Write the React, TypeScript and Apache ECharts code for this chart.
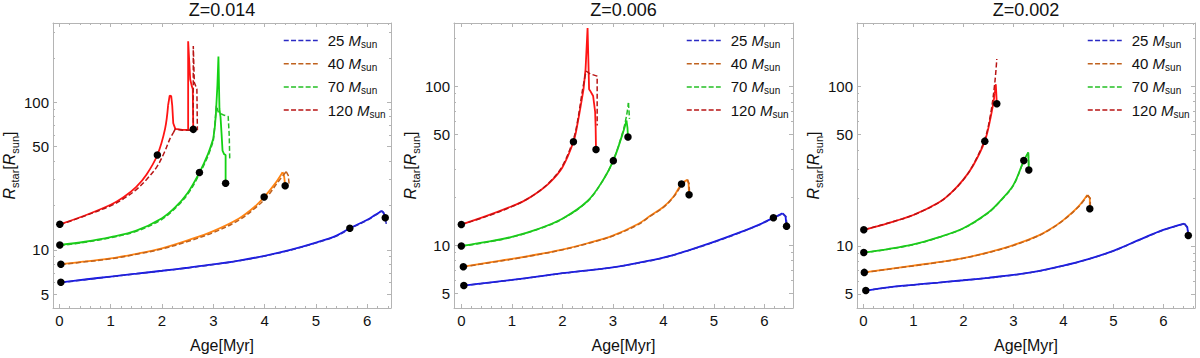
import React, { useEffect, useRef } from 'react';
import * as echarts from 'echarts';

// ---------- data ----------
const MASSES = ['25', '40', '70', '120'];
const TITLES = ['Z=0.014', 'Z=0.006', 'Z=0.002'];
const X_MAJOR = [0, 1, 2, 3, 4, 5, 6];
const X_MINOR = [0.2, 0.4, 0.6, 0.8, 1.2, 1.4, 1.6, 1.8, 2.2, 2.4, 2.6, 2.8, 3.2, 3.4, 3.6, 3.8, 4.2, 4.4, 4.6, 4.8, 5.2, 5.4, 5.6, 5.8, 6.2, 6.4, 6.6];
const Y_MAJOR = [5, 10, 50, 100];
const Y_MINOR = [6, 7, 8, 9, 20, 30, 40, 60, 70, 80, 90, 200, 300];

// Each track: smooth main-sequence part + sharp end part (end starts at the last main point)
// Z = 0.014
const z014_25_solid = [[0.03, 6.03], [0.5, 6.3], [1, 6.6], [1.5, 6.9], [2, 7.22], [2.5, 7.57], [3, 7.97], [3.5, 8.47], [4, 9.12], [4.5, 10.0], [5, 11.2], [5.4, 12.5], [5.66, 14.0], [6, 16.0], [6.15, 17.2], [6.24, 18.0], [6.27, 18.3], [6.3, 18.1]];
const z014_25_solid_end = [[6.3, 18.1], [6.33, 17.4], [6.35, 16.5]];
const z014_25_dash = [[0.03, 6.0], [0.5, 6.28], [1, 6.58], [1.5, 6.88], [2, 7.2], [2.5, 7.55], [3, 7.95], [3.5, 8.44], [4, 9.08], [4.5, 9.95], [5, 11.15], [5.4, 12.4], [5.66, 13.9], [6, 15.9], [6.15, 17.1], [6.26, 18.1], [6.29, 18.3], [6.32, 17.9]];
const z014_25_dash_end = [[6.32, 17.9], [6.35, 16.4], [6.37, 15.0]];
const z014_40_solid = [[0.03, 8.0], [0.5, 8.35], [1, 8.75], [1.5, 9.4], [2, 10.25], [2.5, 11.6], [3, 13.4], [3.5, 16.3], [3.8, 19.5], [3.99, 22.8], [4.2, 28], [4.35, 33.6]];
const z014_40_solid_end = [[4.35, 33.6], [4.38, 31.5], [4.4, 27.2]];
const z014_40_dash = [[0.03, 7.95], [0.5, 8.3], [1, 8.7], [1.5, 9.33], [2, 10.15], [2.5, 11.4], [3, 13.1], [3.5, 15.9], [3.8, 19], [4.05, 23], [4.25, 28.5], [4.42, 33.9]];
const z014_40_dash_end = [[4.42, 33.9], [4.46, 32], [4.48, 27.4]];
const z014_70_solid = [[0.01, 10.8], [0.5, 11.35], [1, 12.2], [1.5, 13.5], [2, 16.4], [2.25, 19.3], [2.5, 24.3], [2.73, 33.4], [2.9, 44.9], [3.0, 56.7]];
const z014_70_solid_end = [[3.0, 56.7], [3.03, 68], [3.05, 83], [3.08, 130], [3.1, 204], [3.12, 90], [3.14, 80], [3.16, 62], [3.18, 47], [3.21, 44.5], [3.24, 43.9], [3.24, 28.3]];
const z014_70_dash = [[0.01, 10.7], [0.5, 11.25], [1, 12.1], [1.5, 13.35], [2, 16.1], [2.25, 19.0], [2.5, 23.8], [2.73, 32.6], [2.9, 43.5], [3.0, 55]];
const z014_70_dash_end = [[3.0, 55], [3.03, 70], [3.06, 95], [3.1, 85], [3.2, 82], [3.29, 80], [3.31, 60], [3.32, 41.6]];
const z014_120_solid = [[0.01, 14.9], [0.5, 17.1], [1, 20.2], [1.25, 22.7], [1.5, 26.7], [1.7, 32.4], [1.91, 43.9], [2.06, 66], [2.12, 95.5]];
const z014_120_solid_end = [[2.12, 95.5], [2.15, 111], [2.18, 110], [2.2, 95], [2.22, 72], [2.26, 66], [2.4, 65], [2.51, 65], [2.51, 259], [2.55, 143], [2.58, 129], [2.6, 123], [2.61, 65.5]];
const z014_120_dash = [[0.01, 14.8], [0.5, 17.0], [1, 19.9], [1.25, 22.2], [1.5, 25.6], [1.7, 30.0], [1.9, 36.5], [2.05, 46], [2.15, 56], [2.22, 62]];
const z014_120_dash_end = [[2.22, 62], [2.26, 66], [2.4, 64.6], [2.61, 64.6], [2.61, 240], [2.63, 136], [2.68, 123], [2.69, 64.6]];
const z014_dots = [[0.03, 6.03], [5.66, 14.0], [6.35, 16.5], [0.03, 8.0], [3.99, 22.8], [4.4, 27.2], [0.01, 10.8], [2.73, 33.4], [3.24, 28.3], [0.01, 14.9], [1.91, 43.9], [2.61, 65.5]];

// Z = 0.006
const z006_25_solid = [[0.05, 5.58], [0.5, 5.8], [1, 6.05], [1.5, 6.35], [2, 6.67], [2.5, 6.95], [3, 7.27], [3.5, 7.75], [4, 8.35], [4.5, 9.3], [5, 10.5], [5.5, 12.0], [5.9, 13.5], [6.18, 14.9], [6.36, 15.9]];
const z006_25_solid_end = [[6.36, 15.9], [6.42, 15.2], [6.44, 13.2]];
const z006_25_dash = [[0.05, 5.57], [0.5, 5.79], [1, 6.04], [1.5, 6.34], [2, 6.66], [2.5, 6.94], [3, 7.26], [3.5, 7.73], [4, 8.33], [4.5, 9.27], [5, 10.45], [5.5, 11.95], [5.9, 13.45], [6.18, 14.85], [6.37, 15.85]];
const z006_25_dash_end = [[6.37, 15.85], [6.43, 15.1], [6.45, 13.3]];
const z006_40_solid = [[0.04, 7.33], [0.5, 7.75], [1, 8.2], [1.5, 8.75], [2, 9.4], [2.5, 10.3], [3, 11.5], [3.5, 13.6], [3.75, 15.4], [4, 17.4], [4.2, 20.2], [4.36, 24.3], [4.47, 25.8]];
const z006_40_solid_end = [[4.47, 25.8], [4.5, 24.5], [4.51, 20.8]];
const z006_40_dash = [[0.04, 7.3], [0.5, 7.72], [1, 8.17], [1.5, 8.72], [2, 9.36], [2.5, 10.25], [3, 11.45], [3.5, 13.5], [3.75, 15.3], [4, 17.3], [4.2, 20.1], [4.38, 24.3], [4.48, 25.9]];
const z006_40_dash_end = [[4.48, 25.9], [4.51, 24.5], [4.52, 21]];
const z006_70_solid = [[0, 9.9], [0.5, 10.5], [1, 11.3], [1.5, 12.6], [2, 14.7], [2.5, 19.0], [2.8, 25.5], [3.01, 34.1], [3.2, 51], [3.27, 61]];
const z006_70_solid_end = [[3.27, 61], [3.29, 55], [3.3, 48]];
const z006_70_dash = [[0, 9.85], [0.5, 10.45], [1, 11.25], [1.5, 12.55], [2, 14.65], [2.5, 18.9], [2.8, 25.5], [3.01, 34.3], [3.2, 52], [3.27, 65], [3.31, 78.7]];
const z006_70_dash_end = [[3.31, 78.7], [3.33, 62.5]];
const z006_120_solid = [[0, 13.5], [0.5, 15.3], [1, 17.6], [1.25, 19.1], [1.5, 21.4], [1.75, 24.8], [2, 30.9], [2.22, 44.8], [2.3, 58], [2.42, 96]];
const z006_120_solid_end = [[2.42, 96], [2.46, 128], [2.49, 200], [2.5, 233], [2.515, 150], [2.53, 96], [2.55, 94], [2.61, 87], [2.65, 69], [2.66, 55], [2.667, 40.1]];
const z006_120_dash = [[0, 13.5], [0.5, 15.2], [1, 17.5], [1.25, 19.1], [1.5, 21.4], [1.75, 25.0], [2, 31.5], [2.22, 46.5], [2.3, 60], [2.4, 95], [2.47, 125]];
const z006_120_dash_end = [[2.47, 125], [2.55, 120], [2.69, 116], [2.69, 56.8]];
const z006_dots = [[0.05, 5.58], [6.18, 14.9], [6.44, 13.2], [0.04, 7.33], [4.36, 24.3], [4.51, 20.8], [0, 9.9], [3.01, 34.1], [3.3, 48], [0, 13.5], [2.22, 44.8], [2.667, 40.1]];

// Z = 0.002
const z002_25_solid = [[0.05, 5.25], [0.5, 5.5], [1, 5.7], [1.5, 5.89], [2, 6.09], [2.5, 6.31], [3, 6.57], [3.5, 6.95], [4, 7.51], [4.5, 8.26], [5, 9.31], [5.5, 10.85], [6, 12.6], [6.42, 13.8]];
const z002_25_solid_end = [[6.42, 13.8], [6.48, 13.1], [6.5, 11.6]];
const z002_25_dash = [[0.05, 5.24], [0.5, 5.49], [1, 5.69], [1.5, 5.88], [2, 6.08], [2.5, 6.3], [3, 6.56], [3.5, 6.94], [4, 7.5], [4.5, 8.24], [5, 9.28], [5.5, 10.8], [6, 12.55], [6.42, 13.75]];
const z002_25_dash_end = [[6.42, 13.75], [6.48, 13.05], [6.5, 11.7]];
const z002_40_solid = [[0.02, 6.82], [0.5, 7.15], [1, 7.51], [1.5, 7.9], [2, 8.38], [2.5, 9.1], [3, 10.1], [3.5, 11.6], [3.75, 12.8], [4, 14.5], [4.3, 17.6], [4.48, 20.8]];
const z002_40_solid_end = [[4.48, 20.8], [4.53, 19.9], [4.53, 17.1]];
const z002_40_dash = [[0.02, 6.8], [0.5, 7.13], [1, 7.49], [1.5, 7.88], [2, 8.36], [2.5, 9.07], [3, 10.05], [3.5, 11.55], [3.75, 12.75], [4, 14.45], [4.3, 17.5], [4.49, 20.8]];
const z002_40_dash_end = [[4.49, 20.8], [4.54, 19.8], [4.54, 17.3]];
const z002_70_solid = [[0.01, 9.08], [0.5, 9.55], [1, 10.2], [1.5, 11.3], [2, 12.9], [2.5, 16.2], [2.75, 19.3], [3, 24.0], [3.21, 34.2], [3.3, 38.5]];
const z002_70_solid_end = [[3.3, 38.5], [3.31, 29.9]];
const z002_70_dash = [[0.01, 9.05], [0.5, 9.52], [1, 10.17], [1.5, 11.27], [2, 12.85], [2.5, 16.1], [2.75, 19.2], [3, 23.8], [3.21, 34.0], [3.3, 38.3]];
const z002_70_dash_end = [[3.3, 38.3], [3.31, 30.2]];
const z002_120_solid = [[0.01, 12.6], [0.5, 13.9], [1, 15.6], [1.5, 18.6], [1.75, 21.4], [2, 26.0], [2.2, 32.0], [2.43, 45.3], [2.55, 64.6], [2.63, 90]];
const z002_120_solid_end = [[2.63, 90], [2.65, 103], [2.66, 90], [2.67, 77.6]];
const z002_120_dash = [[0.01, 12.6], [0.5, 13.9], [1, 15.6], [1.5, 18.6], [1.75, 21.4], [2, 25.9], [2.2, 32.3], [2.43, 46.5], [2.55, 68], [2.63, 105], [2.67, 148]];
const z002_120_dash_end = [[2.67, 148]];
const z002_dots = [[0.05, 5.25], [6.5, 11.6], [0.02, 6.82], [4.53, 17.1], [0.01, 9.08], [3.21, 34.2], [3.31, 29.9], [0.01, 12.6], [2.43, 45.3], [2.67, 77.6]];

const SOLID = [
  [[z014_25_solid, z014_25_solid_end], [z014_40_solid, z014_40_solid_end], [z014_70_solid, z014_70_solid_end], [z014_120_solid, z014_120_solid_end]],
  [[z006_25_solid, z006_25_solid_end], [z006_40_solid, z006_40_solid_end], [z006_70_solid, z006_70_solid_end], [z006_120_solid, z006_120_solid_end]],
  [[z002_25_solid, z002_25_solid_end], [z002_40_solid, z002_40_solid_end], [z002_70_solid, z002_70_solid_end], [z002_120_solid, z002_120_solid_end]],
];
const DASHED = [
  [[z014_25_dash, z014_25_dash_end], [z014_40_dash, z014_40_dash_end], [z014_70_dash, z014_70_dash_end], [z014_120_dash, z014_120_dash_end]],
  [[z006_25_dash, z006_25_dash_end], [z006_40_dash, z006_40_dash_end], [z006_70_dash, z006_70_dash_end], [z006_120_dash, z006_120_dash_end]],
  [[z002_25_dash, z002_25_dash_end], [z002_40_dash, z002_40_dash_end], [z002_70_dash, z002_70_dash_end], [z002_120_dash, z002_120_dash_end]],
];
const DOTS = [z014_dots, z006_dots, z002_dots];

// ---------- layout & style ----------
const PANELS = [
  { left: 53, width: 338, xMin: -0.123, xMax: 6.462, yMin: 4.04, yMax: 344, legendLeft: 283 },
  { left: 454, width: 339, xMin: -0.145, xMax: 6.568, yMin: 4.03, yMax: 250.6, legendLeft: 686 },
  { left: 857, width: 338, xMin: -0.126, xMax: 6.634, yMin: 4.08, yMax: 249, legendLeft: 1087 },
];
const GRID_TOP = 23;
const GRID_H = 288;
const SOLID_COLORS = ['#1414f0', '#ff8412', '#14d214', '#ff1414'];
const DASH_COLORS = ['#2a2ac4', '#c0621e', '#24c024', '#b81414'];
const FRAME = '#b4b4b4';
const FONT = '"Liberation Sans", Arial, sans-serif';
const TXT = '#111';
const SMOOTH = 0.35;
const DASH = [5, 2.5];

function buildOption() {
  const grid: any[] = [];
  const xAxis: any[] = [];
  const yAxis: any[] = [];
  const series: any[] = [];
  const title: any[] = [];
  const legend: any[] = [];

  PANELS.forEach((p, i) => {
    grid.push({ left: p.left, top: GRID_TOP, width: p.width, height: GRID_H, containLabel: false });
    const xin = (v: number) => v >= p.xMin && v <= p.xMax;
    const yin = (v: number) => v >= p.yMin && v <= p.yMax;
    const xMaj = X_MAJOR.filter(xin);
    const xMin = X_MINOR.filter(xin);
    const yMaj = Y_MAJOR.filter(yin);
    const yMin = Y_MINOR.filter(yin);
    const baseX = { gridIndex: i, type: 'value', min: p.xMin, max: p.xMax, splitLine: { show: false } };
    xAxis.push({
      ...baseX, position: 'bottom',
      axisLine: { show: true, onZero: false, lineStyle: { color: FRAME, width: 1 } },
      axisTick: { show: true, inside: true, length: 4, customValues: xMaj, lineStyle: { color: FRAME } },
      axisLabel: { show: true, customValues: xMaj, fontSize: 15, color: TXT, fontFamily: FONT, margin: 5, formatter: (v: number) => String(v) },
      name: 'Age[Myr]', nameLocation: 'middle', nameGap: 29,
      nameTextStyle: { fontSize: 16, color: TXT, fontFamily: FONT },
    });
    xAxis.push({
      ...baseX, position: 'bottom',
      axisLine: { show: false, onZero: false },
      axisTick: { show: true, inside: true, length: 2, customValues: xMin, lineStyle: { color: FRAME } },
      axisLabel: { show: false },
    });
    xAxis.push({
      ...baseX, position: 'top',
      axisLine: { show: true, onZero: false, lineStyle: { color: FRAME, width: 1 } },
      axisTick: { show: true, inside: true, length: 4, customValues: xMaj, lineStyle: { color: FRAME } },
      axisLabel: { show: false },
    });
    xAxis.push({
      ...baseX, position: 'top',
      axisLine: { show: false, onZero: false },
      axisTick: { show: true, inside: true, length: 2, customValues: xMin, lineStyle: { color: FRAME } },
      axisLabel: { show: false },
    });

    const baseY = { gridIndex: i, type: 'log', logBase: 10, min: p.yMin, max: p.yMax, splitLine: { show: false } };
    yAxis.push({
      ...baseY, position: 'left',
      axisLine: { show: true, onZero: false, lineStyle: { color: FRAME, width: 1 } },
      axisTick: { show: true, inside: true, length: 4, customValues: yMaj, lineStyle: { color: FRAME } },
      axisLabel: { show: true, customValues: yMaj, fontSize: 15, color: TXT, fontFamily: FONT, margin: 4, formatter: (v: number) => String(Math.round(v)) },
      name: '{i|R}{s|star}{n|[}{i|R}{s|sun}{n|]}', nameLocation: 'middle', nameGap: 31,
      nameTextStyle: {
        fontSize: 16, color: TXT, fontFamily: FONT,
        rich: {
          i: { fontSize: 16, fontStyle: 'italic', fontFamily: FONT, color: TXT, lineHeight: 22 },
          n: { fontSize: 16, fontFamily: FONT, color: TXT, lineHeight: 22 },
          s: { fontSize: 11, fontFamily: FONT, color: TXT, verticalAlign: 'bottom' },
        },
      },
    });
    yAxis.push({
      ...baseY, position: 'left',
      axisLine: { show: false, onZero: false },
      axisTick: { show: true, inside: true, length: 2, customValues: yMin, lineStyle: { color: FRAME } },
      axisLabel: { show: false },
    });
    yAxis.push({
      ...baseY, position: 'right',
      axisLine: { show: true, onZero: false, lineStyle: { color: FRAME, width: 1 } },
      axisTick: { show: true, inside: true, length: 4, customValues: yMaj, lineStyle: { color: FRAME } },
      axisLabel: { show: false },
    });
    yAxis.push({
      ...baseY, position: 'right',
      axisLine: { show: false, onZero: false },
      axisTick: { show: true, inside: true, length: 2, customValues: yMin, lineStyle: { color: FRAME } },
      axisLabel: { show: false },
    });

    const xi = i * 4;
    const yi = i * 4;
    MASSES.forEach((m, k) => {
      const [main, end] = SOLID[i][k];
      const ls = { color: SOLID_COLORS[k], width: 1.8 };
      series.push({
        type: 'line', name: m + ' solid', xAxisIndex: xi, yAxisIndex: yi, data: main, smooth: SMOOTH,
        symbol: 'none', showSymbol: false, silent: true, z: 2, lineStyle: ls, itemStyle: { color: SOLID_COLORS[k] },
      });
      series.push({
        type: 'line', name: m + ' solid end', xAxisIndex: xi, yAxisIndex: yi, data: end,
        symbol: 'none', showSymbol: false, silent: true, z: 2, lineStyle: ls, itemStyle: { color: SOLID_COLORS[k] },
      });
    });
    MASSES.forEach((m, k) => {
      const [main, end] = DASHED[i][k];
      const ls = { color: DASH_COLORS[k], width: 1.5, type: DASH };
      series.push({
        type: 'line', name: m, xAxisIndex: xi, yAxisIndex: yi, data: main, smooth: SMOOTH,
        symbol: 'none', showSymbol: false, silent: true, z: 3, lineStyle: ls, itemStyle: { color: DASH_COLORS[k] },
      });
      series.push({
        type: 'line', name: m + ' end', xAxisIndex: xi, yAxisIndex: yi, data: end,
        symbol: 'none', showSymbol: false, silent: true, z: 3, lineStyle: ls, itemStyle: { color: DASH_COLORS[k] },
      });
    });
    series.push({
      type: 'scatter', name: 'dots' + i, xAxisIndex: xi, yAxisIndex: yi,
      data: DOTS[i], symbol: 'circle', symbolSize: 7.5, silent: true, z: 5,
      itemStyle: { color: '#000', opacity: 1 },
    });

    title.push({
      text: TITLES[i], left: p.left + p.width / 2, top: 1, textAlign: 'center', padding: 0,
      textStyle: { fontSize: 18, fontWeight: 'normal', color: TXT, fontFamily: FONT },
    });
    legend.push({
      orient: 'vertical', left: p.legendLeft, top: 33, padding: 0,
      data: MASSES, itemWidth: 34, itemHeight: 10, itemGap: 6.7, selectedMode: false,
      lineStyle: { type: [5, 2.3], width: 1.5 },
      itemStyle: { opacity: 0 },
      formatter: (n: string) => `{a|${n} }{m|M}{s|sun}`,
      textStyle: {
        fontSize: 15, color: TXT, fontFamily: FONT,
        rich: {
          a: { fontSize: 15, color: TXT, fontFamily: FONT, lineHeight: 18, padding: [0, 0, 0, 5] },
          m: { fontSize: 15, color: TXT, fontFamily: FONT, fontStyle: 'italic', lineHeight: 18 },
          s: { fontSize: 10, color: TXT, fontFamily: FONT, verticalAlign: 'bottom' },
        },
      },
    });
  });

  return { animation: false, backgroundColor: '#fff', title, legend, grid, xAxis, yAxis, series };
}

export default function App() {
  const ref = useRef<HTMLDivElement>(null);
  useEffect(() => {
    const chart = echarts.init(ref.current as HTMLDivElement, null, { renderer: 'svg' });
    chart.setOption(buildOption() as any);
    return () => chart.dispose();
  }, []);
  return (
    <div ref={ref} style={{ position: 'fixed', left: 0, top: 0, width: 1200, height: 358, background: '#fff' }} />
  );
}
